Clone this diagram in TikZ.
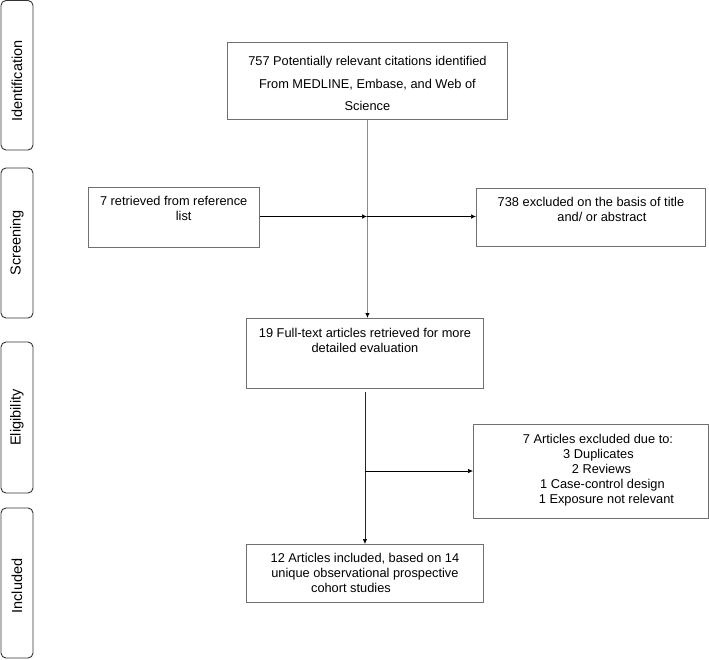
\documentclass[tikz,border=0pt]{standalone}
\usepackage{fontspec}
\setmainfont{Liberation Sans}
\usetikzlibrary{arrows.meta}
\definecolor{boxgray}{RGB}{112,112,112}
\definecolor{linegray}{RGB}{140,140,140}
\newcommand{\boxtxt}[4]{\parbox[c][#2][t]{#1}{\centering\vspace*{#3}#4\par}}
\begin{document}
\begin{tikzpicture}[x=1pt,y=-1pt,
  flowbox/.style={draw=boxgray, line width=0.9pt, inner sep=0pt, anchor=north west,
    font=\fontsize{12.8}{15}\selectfont},
  phase/.style={draw=black!80, line width=0.9pt, rounded corners=5pt, rotate=90,
    minimum height=32pt, inner sep=0pt, font=\fontsize{14.5}{17}\selectfont},
  tip/.style={-{Latex[length=5pt,width=4.5pt,black]}},
  arr/.style={tip, line width=0.7pt, black},
]
\useasboundingbox (0,0) rectangle (709,659);

% phase labels
\node[phase, minimum width=149.5pt] (pid) at (17,75.25) {Identification\hspace*{12pt}\mbox{}};
\node[phase, minimum width=150pt] (pscr) at (17,243) {Screening};
\node[phase, minimum width=151pt] (pelig) at (17,417.5) {Eligibility};
\node[phase, minimum width=150pt] (pinc) at (17,583) {Included\hspace*{6pt}\mbox{}};

% boxes
\node[flowbox, font=\fontsize{12.8}{22.5}\selectfont] (top) at (227,42)
  {\boxtxt{280pt}{77pt}{14.2pt}{757 Potentially relevant citations identified\\From MEDLINE, Embase, and Web of\\Science}};
\node[flowbox] (ref) at (87.5,187)
  {\boxtxt{171.5pt}{60pt}{9.2pt}{7 retrieved from reference\\\hspace*{20pt}list}};
\node[flowbox] (excl1) at (476,188)
  {\boxtxt{229pt}{58pt}{8.7pt}{738 excluded on the basis of title\\\hspace*{22pt}and/ or abstract}};
\node[flowbox] (full) at (246,318)
  {\boxtxt{237pt}{70pt}{10.2pt}{19 Full-text articles retrieved for more\\detailed evaluation}};
\node[flowbox] (excl2) at (473,424)
  {\boxtxt{235pt}{94pt}{10.2pt}{\hspace*{14pt}7 Articles excluded due to:\\\hspace*{15pt}3 Duplicates\\\hspace*{21pt}2 Reviews\\\hspace*{23pt}1 Case-control design\\\hspace*{31pt}1 Exposure not relevant}};
\node[flowbox] (incl) at (246,544)
  {\boxtxt{237pt}{58pt}{9.2pt}{12 Articles included, based on 14\\unique observational prospective\\cohort studies\hspace*{28pt}\mbox{}}};

% junctions
\coordinate (j1) at (367,216.5);
\coordinate (j2) at (364.5,471);

% connectors
\draw[linegray, line width=1.3pt, tip] (top.south) -- (top.south |- full.north);
\draw[arr] (ref.east |- j1) -- (j1);
\draw[arr] (j1) -- (j1 -| excl1.west);
\draw[arr, black!85, shorten <=3.5pt] (full.south) -- (incl.north);
\draw[arr] (full.south |- j2) -- (j2 -| excl2.west);
\end{tikzpicture}
\end{document}
